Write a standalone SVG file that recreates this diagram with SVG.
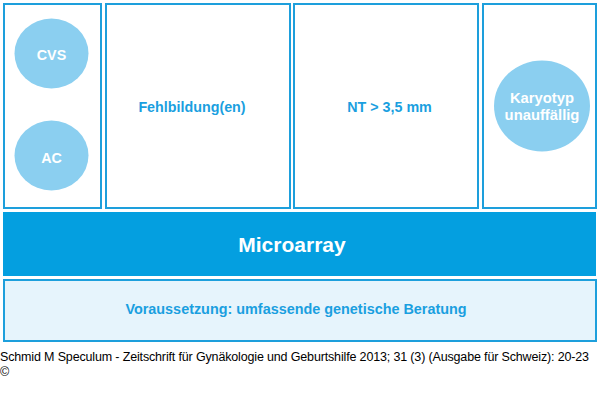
<svg xmlns="http://www.w3.org/2000/svg" width="600" height="406" viewBox="0 0 600 406">
<style>
.box{fill:#ffffff;stroke:#1d9fdc;stroke-width:2}
.circ{fill:#8bcff0}
.lbl{font-family:"Liberation Sans",Arial,sans-serif;font-weight:bold;font-size:14.3px;text-anchor:middle}
.blue{fill:#1a9fe0}
.white{fill:#ffffff}
</style>
<rect width="600" height="406" fill="#ffffff"/>
<g id="box-methods">
<rect class="box" x="4" y="4" width="97" height="204"/>
<g id="node-cvs"><ellipse class="circ" cx="51.5" cy="53.5" rx="37" ry="35"/><text class="lbl white" x="51.5" y="60">CVS</text></g>
<g id="node-ac"><ellipse class="circ" cx="51.5" cy="155.5" rx="37" ry="35"/><text class="lbl white" x="51.5" y="162.5">AC</text></g>
</g>
<g id="node-fehlbildung"><rect class="box" x="106" y="4" width="184" height="204"/><text class="lbl blue" x="192" y="112">Fehlbildung(en)</text></g>
<g id="node-nt"><rect class="box" x="294" y="4" width="184" height="204"/><text class="lbl blue" x="389.5" y="112">NT &gt; 3,5 mm</text></g>
<g id="node-karyotyp"><rect class="box" x="483" y="4" width="113" height="204"/>
<ellipse class="circ" cx="542" cy="106" rx="48" ry="45.5"/>
<text class="lbl white" x="542" y="103" style="font-size:14.8px">Karyotyp</text><text class="lbl white" x="542" y="119.5" style="font-size:14.8px">unauffällig</text></g>
<g id="node-microarray"><rect x="3" y="212" width="593" height="64" fill="#049fe0"/><text class="lbl white" x="292" y="252" style="font-size:21px">Microarray</text></g>
<g id="node-beratung"><rect x="4" y="280" width="592" height="61" fill="#e6f4fc" stroke="#1d9fdc" stroke-width="2"/><text class="lbl blue" x="296" y="314" style="font-size:14.4px">Voraussetzung: umfassende genetische Beratung</text></g>
<g id="connectors"></g>
<g id="footer" font-family="'Liberation Sans',Arial,sans-serif" font-size="12.5" fill="#000000">
<text x="0" y="361" textLength="589" lengthAdjust="spacing">Schmid M Speculum - Zeitschrift für Gynäkologie und Geburtshilfe 2013; 31 (3) (Ausgabe für Schweiz): 20-23</text>
<text x="0" y="376">©</text>
</g>
</svg>
